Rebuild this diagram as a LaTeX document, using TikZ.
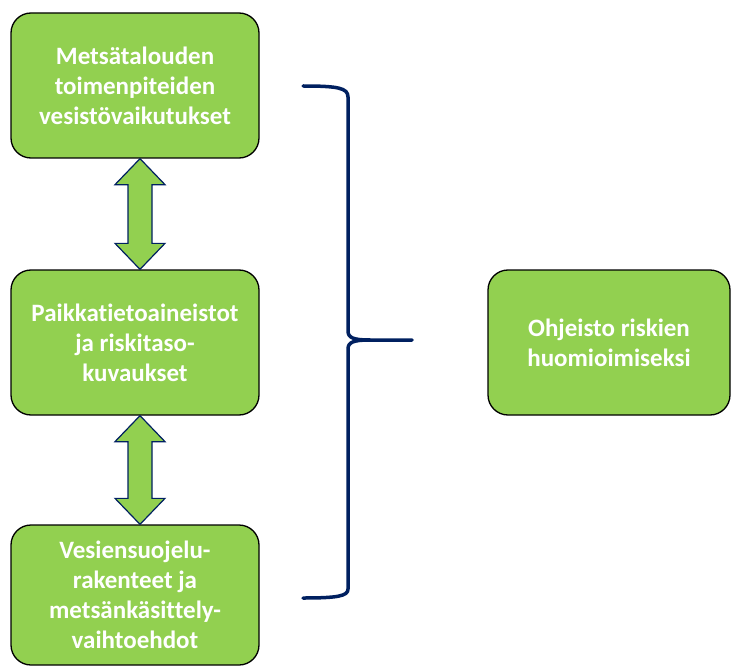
\documentclass[tikz,border=0pt]{standalone}
\usepackage{fontspec}
\setmainfont[Ligatures=NoCommon]{Carlito}
\usepackage{tikz}
\usetikzlibrary{calc}
\definecolor{boxgreen}{HTML}{92D050}
\definecolor{navy}{HTML}{002060}

\begin{document}
\begin{tikzpicture}[x=1pt,y=-1pt,
  box/.style={draw=black,line width=1.3pt,fill=boxgreen,rounded corners=20pt,
    text=white,font=\fontsize{25}{30}\selectfont\bfseries,align=center,
    minimum width=248pt,minimum height=145pt,inner sep=0pt},
  dblarrow/.style={draw=navy,line width=1.2pt,fill=boxgreen,line join=miter},
  brace/.style={draw=navy,line width=3.5pt,line cap=round}]
\useasboundingbox (0,0) rectangle (731,666);
% boxes
\node[box] (toim) at (135,85.5) {Metsätalouden\\toimenpiteiden\\vesistövaikutukset};
\node[box] (paikka) at (135,342.5) {Paikkatietoaineistot\\ja riskitaso-\\kuvaukset};
\node[box,minimum height=140pt] (suojelu) at (135,595) {Vesiensuojelu-\\rakenteet ja\\metsänkäsittely-\\vaihtoehdot};
\node[box,minimum width=242pt] (ohje) at (609,342.5) {Ohjeisto riskien\\huomioimiseksi};
% double arrows
\foreach \a/\b in {toim/paikka,paikka/suojelu}{
  \draw[dblarrow] ($(\a.south)+(5,0)$) -- ++(25,26) -- ++(-13,0)
    -- ($(\b.north)+(17,-26)$) -- ++(13,0) -- ($(\b.north)+(5,0)$)
    -- ++(-25,-26) -- ++(13,0) -- ($(\a.south)+(-7,26)$) -- ++(-13,0) -- cycle;
}
% brace
\draw[brace] (303,86) .. controls (338,86) and (348,88) .. (348,97) -- (348,331)
  .. controls (348,338) and (354,340) .. (370,340) -- (412,340);
\draw[brace] (370,340) .. controls (354,340) and (348,342) .. (348,349) -- (348,589)
  .. controls (348,596) and (338,598) .. (303,598);
\end{tikzpicture}
\end{document}
